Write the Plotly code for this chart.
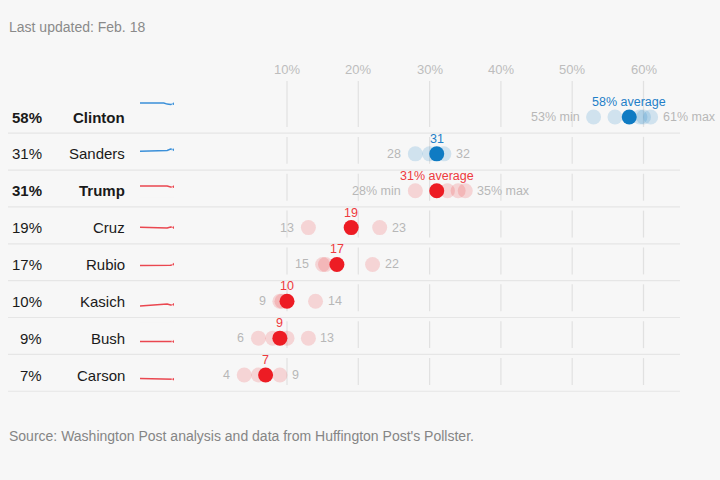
import plotly.graph_objects as go

# ---------------- data ----------------
candidates = ["Clinton", "Sanders", "Trump", "Cruz", "Rubio", "Kasich", "Bush", "Carson"]
party = ["D", "D", "R", "R", "R", "R", "R", "R"]
leader = [True, False, True, False, False, False, False, False]
averages = [58, 31, 31, 19, 17, 10, 9, 7]
mins = [53, 28, 28, 13, 15, 9, 6, 4]
maxs = [61, 32, 35, 23, 22, 14, 13, 9]
estimates = [
    [53, 56, 59.5, 60, 61],
    [28, 30, 32],
    [28, 32.5, 34, 35],
    [13, 23],
    [15, 15.4, 22],
    [9, 9.3, 14],
    [6, 8, 10, 13],
    [4, 6, 9],
]
trend = [
    [60, 60, 60, 60, 60, 60, 60, 60, 57, 56, 58],
    [27, 27, 27, 27, 27, 27, 27, 28, 29, 33, 31],
    [33, 33, 33, 33, 33, 33, 33, 33, 33, 30, 31],
    [20, 19.8, 19.5, 19.3, 19, 18.8, 18.5, 18.2, 18, 21, 19],
    [16, 16, 16, 16, 16, 16, 16, 16, 16, 17, 20],
    [5, 5.5, 6, 7, 7.5, 8, 8.5, 9, 11, 8, 10],
    [9, 9, 9, 9, 9, 9, 9, 9, 9, 9, 9],
    [9, 8.8, 8.6, 8.4, 8.2, 8, 8, 7.8, 7.5, 7.5, 7],
]
ticks = [10, 20, 30, 40, 50, 60]

# ---------------- styling ----------------
BG = "#f7f7f7"
FONT = "Liberation Sans"
DARK = {"D": "#0f7bc3", "R": "#ed1c24"}
LIGHT = {"D": "rgba(15,123,195,0.17)", "R": "rgba(237,28,36,0.16)"}
LABEL = {"D": "#1f7fc8", "R": "#ee3a40"}
SPARK = {"D": "#3b90d9", "R": "#ea4750"}
GRAY = "#b7b7b7"

W, H = 720, 480
X0, SX = 215.7, 7.13       # pixel of 0 %, pixels per 1 %
Y0, SY = 117.0, 36.86      # pixel of first row, pixels per row


def xv(px):
    return (px - X0) / SX


def yv(px):
    return (px - Y0) / SY


fig = go.Figure()

# light estimate dots
for i, c in enumerate(candidates):
    p = party[i]
    fig.add_trace(go.Scatter(
        x=estimates[i], y=[i] * len(estimates[i]), mode="markers",
        marker=dict(size=15, color=LIGHT[p], line=dict(width=0)),
        hoverinfo="skip", showlegend=False))
# average dots
for i, c in enumerate(candidates):
    p = party[i]
    fig.add_trace(go.Scatter(
        x=[averages[i]], y=[i], mode="markers",
        marker=dict(size=15, color=DARK[p], line=dict(width=0)),
        hoverinfo="skip", showlegend=False))

annotations = []
shapes = []

# tick labels
for t in ticks:
    annotations.append(dict(x=t, y=yv(69), xref="x", yref="y", text=f"{t}%",
                            showarrow=False, font=dict(size=13, color="#bdbdbd", family=FONT)))

# grid segments and separators
for i in range(len(candidates)):
    top = i - 0.98 if i == 0 else i - 0.46
    for t in ticks:
        shapes.append(dict(type="line", xref="x", yref="y", x0=t, x1=t, y0=top, y1=i + 0.27,
                           line=dict(color="#e1e1e1", width=1.2), layer="below"))
    shapes.append(dict(type="line", xref="x", yref="y", x0=xv(8), x1=xv(680),
                       y0=i + 0.44, y1=i + 0.44, line=dict(color="#e6e6e6", width=1.2), layer="below"))

# value labels around dots
LBL = 12.5
for i, c in enumerate(candidates):
    p = party[i]
    first = i in (0, 2)
    mn_txt = f"{mins[i]}% min" if first else f"{mins[i]}"
    mx_txt = f"{maxs[i]}% max" if first else f"{maxs[i]}"
    av_txt = f"{averages[i]}% average" if first else f"{averages[i]}"
    annotations.append(dict(x=mins[i], y=i, xref="x", yref="y", text=mn_txt, showarrow=False,
                            xanchor="right", xshift=-12, font=dict(size=LBL, color=GRAY, family=FONT)))
    annotations.append(dict(x=maxs[i], y=i, xref="x", yref="y", text=mx_txt, showarrow=False,
                            xanchor="left", xshift=10, font=dict(size=LBL, color=GRAY, family=FONT)))
    annotations.append(dict(x=averages[i], y=i, xref="x", yref="y", text=av_txt, showarrow=False,
                            yshift=15, font=dict(size=LBL, color=LABEL[p], family=FONT)))
    # left columns
    txt_pct = f"<b>{averages[i]}%</b>" if leader[i] else f"{averages[i]}%"
    txt_name = f"<b>{c}</b>" if leader[i] else c
    annotations.append(dict(x=44 / W, y=i, xref="paper", yref="y", text=txt_pct, showarrow=False,
                            xanchor="right", font=dict(size=15, color="#1a1a1a", family=FONT)))
    annotations.append(dict(x=127 / W, y=i, xref="paper", yref="y", text=txt_name, showarrow=False,
                            xanchor="right", font=dict(size=15, color="#1a1a1a", family=FONT)))

# sparklines
for i, c in enumerate(candidates):
    p = party[i]
    k = i + 2
    center = Y0 + SY * i
    ybot = 1 - (center + 6.5) / H
    ytop = 1 - (center + 6.5 - 0.34 * 65) / H
    n = len(trend[i])
    fig.add_trace(go.Scatter(
        x=list(range(n)), y=trend[i], mode="lines+markers",
        line=dict(color=SPARK[p], width=1.5),
        marker=dict(size=[0] * (n - 1) + [4], color=SPARK[p]),
        xaxis=f"x{k}", yaxis=f"y{k}", hoverinfo="skip", showlegend=False))
    fig.update_layout(**{
        f"xaxis{k}": dict(domain=[140 / W, 174 / W], range=[0, n - 1], visible=False, fixedrange=True,
                          anchor=f"y{k}"),
        f"yaxis{k}": dict(domain=[ybot, ytop], range=[0, 65], visible=False, fixedrange=True,
                          anchor=f"x{k}"),
    })

# header / footer
annotations.append(dict(x=7 / W, y=1 - 27 / H, xref="paper", yref="paper", text="Last updated: Feb. 18",
                        showarrow=False, xanchor="left", yanchor="middle",
                        font=dict(size=14, color="#8a8a8a", family=FONT)))
annotations.append(dict(x=7 / W, y=1 - 436 / H, xref="paper", yref="paper",
                        text="Source: Washington Post analysis and data from Huffington Post's Pollster.",
                        showarrow=False, xanchor="left", yanchor="middle",
                        font=dict(size=14, color="#858585", family=FONT)))

fig.update_layout(
    width=W, height=H,
    margin=dict(l=0, r=0, t=0, b=0),
    paper_bgcolor=BG, plot_bgcolor=BG,
    xaxis=dict(range=[xv(0), xv(W)], domain=[0, 1], visible=False, fixedrange=True),
    yaxis=dict(range=[yv(H), yv(0)], domain=[0, 1], visible=False, fixedrange=True),
    annotations=annotations, shapes=shapes,
    showlegend=False,
)

fig.write_html("out.html", config={"displayModeBar": False})
